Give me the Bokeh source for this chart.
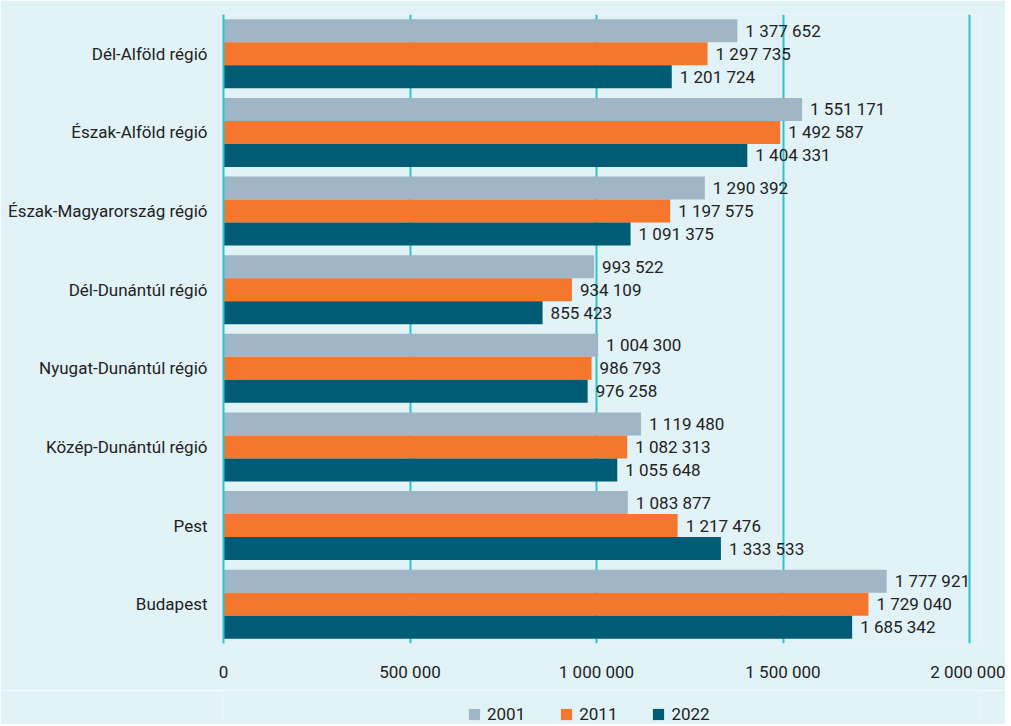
from bokeh.plotting import figure
from bokeh.layouts import column
from bokeh.models import (ColumnDataSource, FactorRange, FixedTicker, Legend, LegendItem, Range1d)
from bokeh.transform import dodge
from bokeh.core.properties import value
from bokeh.embed import file_html
from bokeh.resources import INLINE

regions = ["Dél-Alföld régió", "Észak-Alföld régió", "Észak-Magyarország régió",
           "Dél-Dunántúl régió", "Nyugat-Dunántúl régió", "Közép-Dunántúl régió",
           "Pest", "Budapest"]
v2001 = [1377652, 1551171, 1290392, 993522, 1004300, 1119480, 1083877, 1777921]
v2011 = [1297735, 1492587, 1197575, 934109, 986793, 1082313, 1217476, 1729040]
v2022 = [1201724, 1404331, 1091375, 855423, 976258, 1055648, 1333533, 1685342]
years = ["2001", "2011", "2022"]
tick_values = [0, 500000, 1000000, 1500000, 2000000]

def fmt(v):
    return f"{v:,}".replace(",", " ")

BG = "#e1f3f6"
COLORS = ["#a0b5c5", "#f5762d", "#005c75"]
GRID = "#2cc3d1"
TXT = "#222222"
FONT = "Roboto"

src = ColumnDataSource(dict(
    region=regions,
    v2001=v2001, v2011=v2011, v2022=v2022,
    l2001=[fmt(v) for v in v2001],
    l2011=[fmt(v) for v in v2011],
    l2022=[fmt(v) for v in v2022],
))

W = 1005
p = figure(width=W, height=690, output_backend="svg", toolbar_location=None,
           y_range=FactorRange(factors=list(reversed(regions))),
           x_range=(0, 2037500 * (W - 25 - 223) / 760),
           min_border_left=223, min_border_right=25, min_border_top=14, min_border_bottom=47,
           background_fill_color=BG, border_fill_color=BG, outline_line_color=None)

bh = 0.293
offs = [bh, 0.0, -bh]
for yr, col, off in zip(years, COLORS, offs):
    p.hbar(y=dodge("region", off, range=p.y_range), right="v" + yr, left=0,
           height=bh, source=src, fill_color=col, line_color=None)
    p.text(x="v" + yr, y=dodge("region", off, range=p.y_range), text="l" + yr,
           source=src, x_offset=8, text_baseline="middle", text_align="left",
           text_font=value(FONT), text_font_size="17px", text_color=TXT)

p.xaxis.ticker = FixedTicker(ticks=tick_values)
p.xaxis.major_label_overrides = {t: fmt(t) for t in tick_values}
p.xaxis.axis_line_color = None
p.xaxis.major_tick_line_color = None
p.xaxis.minor_tick_line_color = None
p.xaxis.major_label_standoff = 12
p.xaxis.major_label_text_font = FONT
p.xaxis.major_label_text_font_size = "17px"
p.xaxis.major_label_text_color = TXT

p.yaxis.axis_line_color = GRID
p.yaxis.axis_line_width = 2
p.yaxis.major_tick_line_color = None
p.yaxis.minor_tick_line_color = None
p.yaxis.major_label_standoff = 10
p.yaxis.major_label_text_font = FONT
p.yaxis.major_label_text_font_size = "17px"
p.yaxis.major_label_text_color = TXT

p.xgrid.grid_line_color = GRID
p.xgrid.grid_line_width = 2
p.ygrid.grid_line_color = None

# legend strip below the chart (its frame is aligned with the chart's frame)
leg = figure(width=W, height=34, output_backend="svg", toolbar_location=None,
             x_axis_location=None, y_axis_location=None,
             x_range=Range1d(0, 1), y_range=Range1d(0, 1),
             min_border_left=0, min_border_right=0, min_border_top=0, min_border_bottom=0,
             background_fill_color=BG, border_fill_color=BG, outline_line_color=None)
leg.xgrid.visible = False
leg.ygrid.visible = False
# zero-area swatch renderers, used only for the legend glyphs
leg_renderers = [leg.quad(left=[0], right=[0], top=[0], bottom=[0],
                          fill_color=c, line_color=None)
                 for c in COLORS]
legend = Legend(items=[LegendItem(label=yr, renderers=[r]) for yr, r in zip(years, leg_renderers)],
                orientation="horizontal", location=(244, 0),
                background_fill_alpha=0, border_line_color=None,
                glyph_width=14, glyph_height=14, label_height=16, spacing=34, label_standoff=6,
                label_text_font=FONT, label_text_font_size="17px", label_text_color=TXT,
                padding=0, margin=0)
leg.add_layout(legend, "center")

layout = column(p, leg, spacing=0)
open("out.html", "w").write(file_html(layout, INLINE))
